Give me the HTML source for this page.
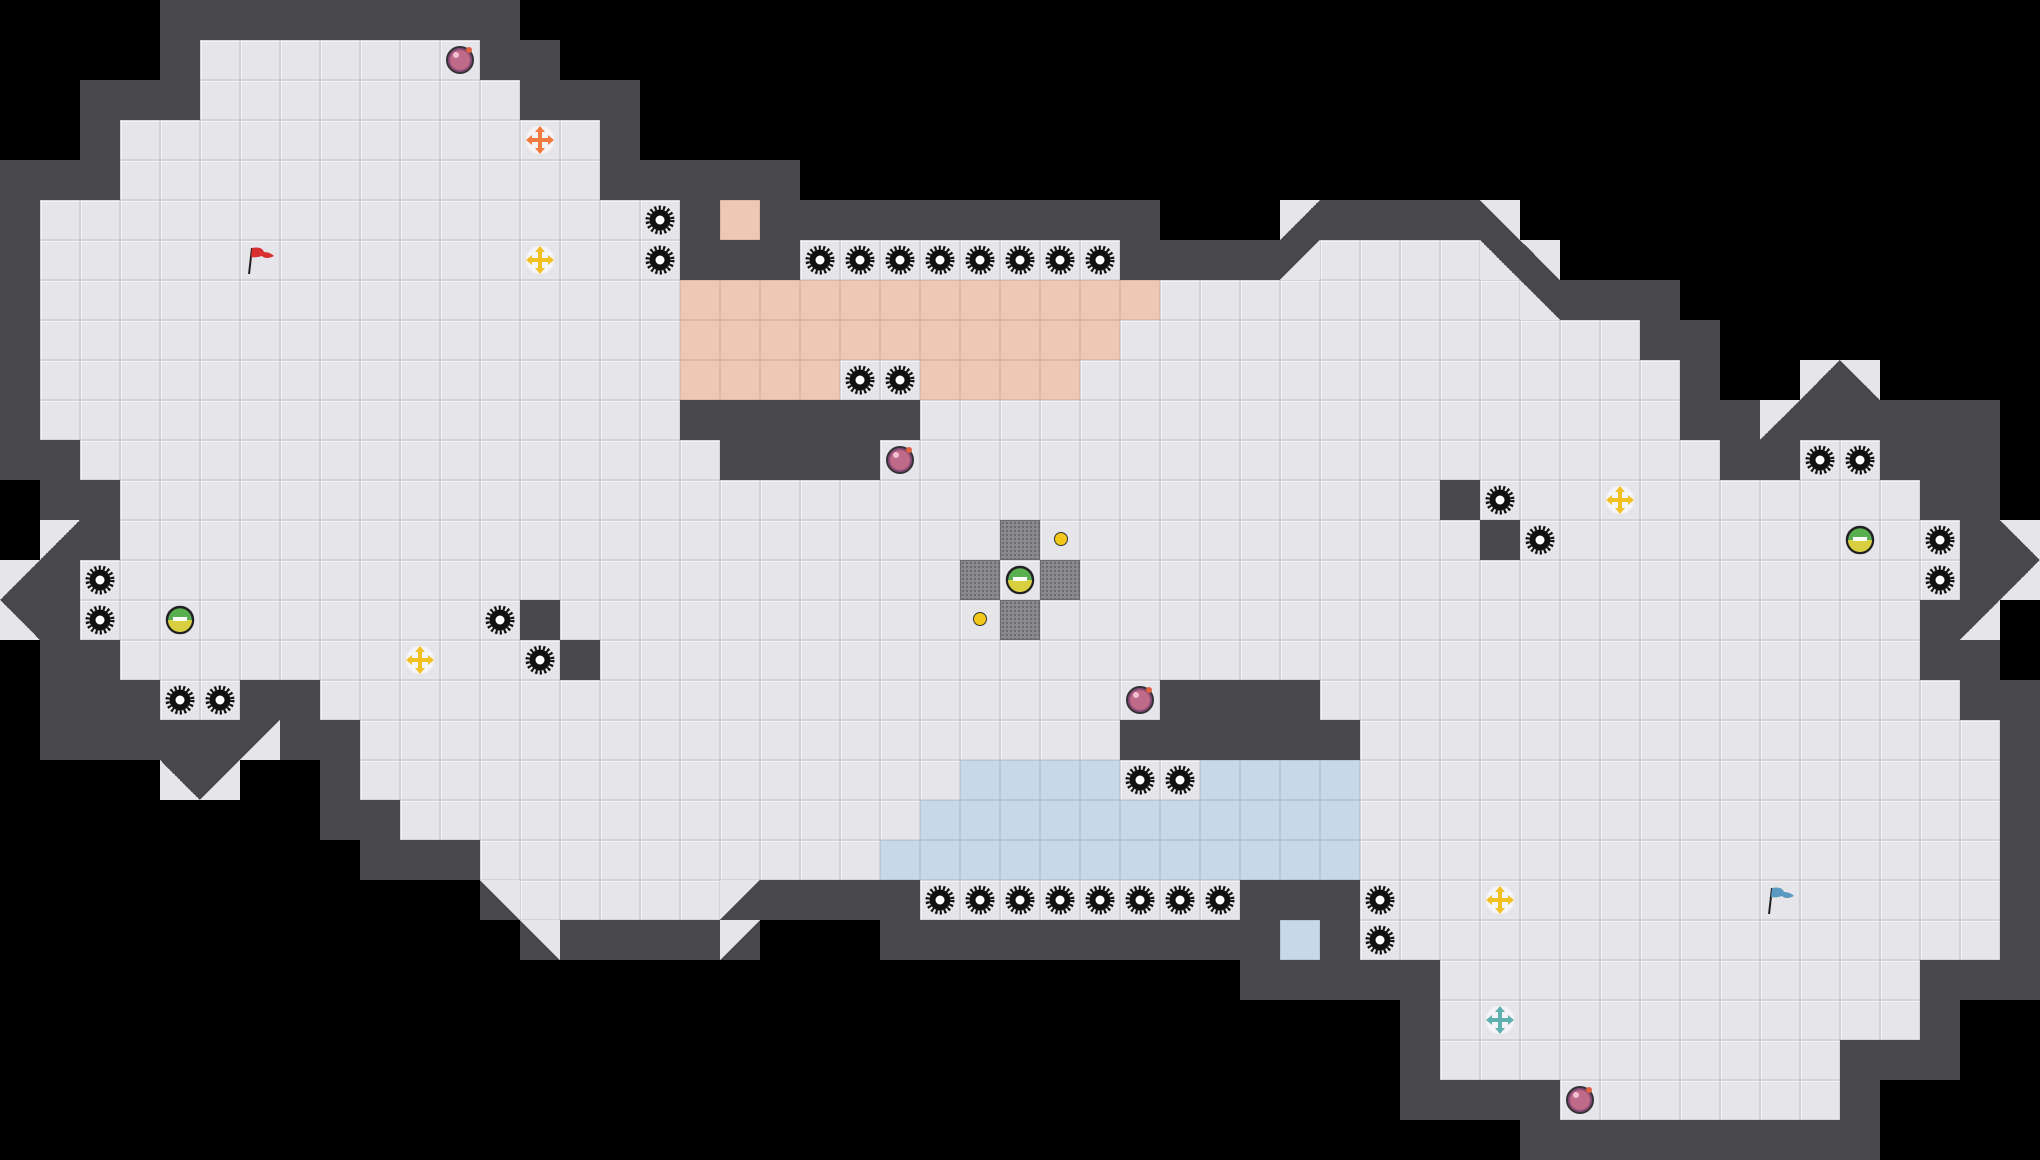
<!DOCTYPE html>
<html><head><meta charset="utf-8">
<style>
html,body{margin:0;padding:0;background:#000;}
#m{position:relative;width:2040px;height:1160px;background:#000;overflow:hidden;}
.c{position:absolute;width:40px;height:40px;box-sizing:border-box;}
.F{background:#e6e6ea;border:1px solid #d2d2d6;box-shadow:inset 1px 1px 0 #f4f4f6;}
.P{background:#eec7b6;border:1px solid #dfb6a4;}
.B{background:#c5d9e8;border:1px solid #b2c8d8;}
.W{background:#48484c;}
.M{background:#8a8a8e;border:1px solid #6a6a6e;background-image:radial-gradient(#6a6a6e 1px,transparent 1.2px);background-size:4px 4px;}
.a{background:linear-gradient(135deg,#48484c 50%,#e6e6ea 50%);}
.b{background:linear-gradient(225deg,#48484c 50%,#e6e6ea 50%);}
.c2{background:linear-gradient(45deg,#48484c 50%,#e6e6ea 50%);}
.d{background:linear-gradient(315deg,#48484c 50%,#e6e6ea 50%);}
.it{position:absolute;}
</style></head><body>
<div id="m"></div>
<svg width="0" height="0" style="position:absolute">
<defs>
<symbol id="gear" viewBox="0 0 40 40">
<circle cx="20" cy="20" r="10.5" fill="#111"/>
<circle cx="20" cy="20" r="12.5" fill="none" stroke="#111" stroke-width="4" stroke-dasharray="2.2 2.2"/>
<circle cx="20" cy="20" r="4.5" fill="#fff"/>
</symbol>
<symbol id="pball" viewBox="0 0 40 40">
<circle cx="20" cy="20" r="13" fill="#8a4a7a" stroke="#333" stroke-width="2"/>
<circle cx="20" cy="20" r="10" fill="#c06a8a"/>
<circle cx="16" cy="15" r="3" fill="#f0c0d0"/>
<circle cx="29" cy="10" r="3" fill="#e06040"/>
</symbol>
<symbol id="gball" viewBox="0 0 40 40">
<circle cx="20" cy="20" r="13" fill="#5ab050" stroke="#222" stroke-width="2.5"/>
<path d="M8 20 A12 12 0 0 0 32 20 Z" fill="#d8d040"/>
<rect x="13" y="17" width="14" height="4" fill="#fff"/>
</symbol>
<symbol id="cross" viewBox="0 0 40 40">
<circle cx="20" cy="20" r="14" fill="#fff" opacity=".6"/>
<path d="M20 6 L25 12 L22 12 L22 18 L28 18 L28 15 L34 20 L28 25 L28 22 L22 22 L22 28 L25 28 L20 34 L15 28 L18 28 L18 22 L12 22 L12 25 L6 20 L12 15 L12 18 L18 18 L18 12 L15 12 Z"/>
</symbol>
<symbol id="flag" viewBox="0 0 40 40">
<line x1="12" y1="8" x2="9" y2="34" stroke="#222" stroke-width="2"/>
<path d="M12 8 Q22 6 24 12 Q30 12 34 16 Q26 20 22 16 Q16 18 11 17 Z"/>
</symbol>
</defs>
</svg>
<script>
var R=[];for(var r=0;r<29;r++){R.push(new Array(51).fill('.'));}
function f(r,a,b,ch){for(var c=a;c<=b;c++)R[r][c]=ch;}
f(0,4,12,'W');
f(1,4,4,'W');f(1,5,11,'F');f(1,12,13,'W');
f(2,2,4,'W');f(2,5,12,'F');f(2,13,15,'W');
f(3,2,2,'W');f(3,3,14,'F');f(3,15,15,'W');
f(4,0,2,'W');f(4,3,14,'F');f(4,15,19,'W');
f(5,0,0,'W');f(5,1,16,'F');f(5,17,17,'W');f(5,18,18,'P');f(5,19,28,'W');f(5,32,32,'d');f(5,33,36,'W');f(5,37,37,'c');
f(6,0,0,'W');f(6,1,16,'F');f(6,17,19,'W');f(6,20,27,'F');f(6,28,31,'W');f(6,32,32,'a');f(6,33,36,'F');f(6,37,37,'b');f(6,38,38,'c');
f(7,0,0,'W');f(7,1,16,'F');f(7,17,28,'P');f(7,29,37,'F');f(7,38,38,'b');f(7,39,41,'W');
f(8,0,0,'W');f(8,1,16,'F');f(8,17,27,'P');f(8,28,40,'F');f(8,41,42,'W');
f(9,0,0,'W');f(9,1,16,'F');f(9,17,20,'P');f(9,21,22,'F');f(9,23,26,'P');f(9,27,41,'F');f(9,42,42,'W');f(9,45,45,'d');f(9,46,46,'c');
f(10,0,0,'W');f(10,1,16,'F');f(10,17,22,'W');f(10,23,41,'F');f(10,42,43,'W');f(10,44,44,'d');f(10,45,49,'W');
f(11,0,1,'W');f(11,2,17,'F');f(11,18,21,'W');f(11,22,42,'F');f(11,43,44,'W');f(11,45,46,'F');f(11,47,49,'W');
f(12,1,2,'W');f(12,3,47,'F');f(12,36,36,'W');f(12,48,49,'W');
f(13,1,1,'d');f(13,2,2,'W');f(13,3,48,'F');f(13,37,37,'W');f(13,49,49,'W');f(13,50,50,'c');
f(14,0,0,'d');f(14,1,1,'W');f(14,2,48,'F');f(14,49,49,'W');f(14,50,50,'a');
f(15,0,0,'b');f(15,1,1,'W');f(15,2,47,'F');f(15,13,13,'W');f(15,48,48,'W');f(15,49,49,'a');
f(16,1,2,'W');f(16,3,47,'F');f(16,14,14,'W');f(16,48,49,'W');
f(17,1,3,'W');f(17,4,5,'F');f(17,6,7,'W');f(17,8,28,'F');f(17,29,32,'W');f(17,33,48,'F');f(17,49,50,'W');
f(18,1,5,'W');f(18,6,6,'a');f(18,7,8,'W');f(18,9,27,'F');f(18,28,33,'W');f(18,34,49,'F');f(18,50,50,'W');
f(19,4,4,'b');f(19,5,5,'a');f(19,8,8,'W');f(19,9,23,'F');f(19,24,27,'B');f(19,28,29,'F');f(19,30,33,'B');f(19,34,49,'F');f(19,50,50,'W');
f(20,8,9,'W');f(20,10,22,'F');f(20,23,33,'B');f(20,34,49,'F');f(20,50,50,'W');
f(21,9,11,'W');f(21,12,21,'F');f(21,22,33,'B');f(21,34,49,'F');f(21,50,50,'W');
f(22,12,12,'c');f(22,13,17,'F');f(22,18,18,'d');f(22,19,22,'W');f(22,23,30,'F');f(22,31,33,'W');f(22,34,49,'F');f(22,50,50,'W');
f(23,13,13,'c');f(23,14,17,'W');f(23,18,18,'d');f(23,22,31,'W');f(23,32,32,'B');f(23,33,33,'W');f(23,34,49,'F');f(23,50,50,'W');
f(24,31,35,'W');f(24,36,47,'F');f(24,48,50,'W');
f(25,35,35,'W');f(25,36,47,'F');f(25,48,48,'W');
f(26,35,35,'W');f(26,36,45,'F');f(26,46,48,'W');
f(27,35,38,'W');f(27,39,45,'F');f(27,46,46,'W');
f(28,38,46,'W');
// mesh
R[13][25]='M';R[14][24]='M';R[14][26]='M';R[15][25]='M';
var h='';
for(var r=0;r<29;r++)for(var c=0;c<51;c++){var ch=R[r][c];if(ch=='.')continue;var cl=ch=='c'?'c2':ch;h+='<div class="c '+cl+'" style="left:'+(c*40)+'px;top:'+(r*40)+'px"></div>';}
function it(sym,c,r,col){return '<svg class="it" width="40" height="40" style="left:'+(c*40)+'px;top:'+(r*40)+'px;'+(col?'fill:'+col:'')+'"><use href="#'+sym+'"/></svg>';}
var G=[[16,5],[16,6],[20,6],[21,6],[22,6],[23,6],[24,6],[25,6],[26,6],[27,6],[21,9],[22,9],[45,11],[46,11],[37,12],[38,13],[48,13],[48,14],[2,14],[2,15],[12,15],[13,16],[4,17],[5,17],[28,19],[29,19],[23,22],[24,22],[25,22],[26,22],[27,22],[28,22],[29,22],[30,22],[34,22],[34,23]];
G.forEach(function(g){h+=it('gear',g[0],g[1]);});
[[11,1],[22,11],[28,17],[39,27]].forEach(function(g){h+=it('pball',g[0],g[1]);});
[[4,15],[25,14],[46,13]].forEach(function(g){h+=it('gball',g[0],g[1]);});
h+=it('cross',13,3,'#f07a40');
[[13,6],[10,16],[40,12],[37,22]].forEach(function(g){h+=it('cross',g[0],g[1],'#f2c020');});
h+=it('cross',37,25,'#60b0b0');
h+=it('flag',6,6,'#d83030');
h+=it('flag',44,22,'#5a9ac0');
h+='<div class="it" style="left:1054px;top:532px;width:14px;height:14px;border-radius:50%;background:#f2c81a;border:1.5px solid #333;box-sizing:border-box"></div>';
h+='<div class="it" style="left:973px;top:612px;width:14px;height:14px;border-radius:50%;background:#f2c81a;border:1.5px solid #333;box-sizing:border-box"></div>';
document.getElementById('m').innerHTML=h;
</script>
</body></html>
